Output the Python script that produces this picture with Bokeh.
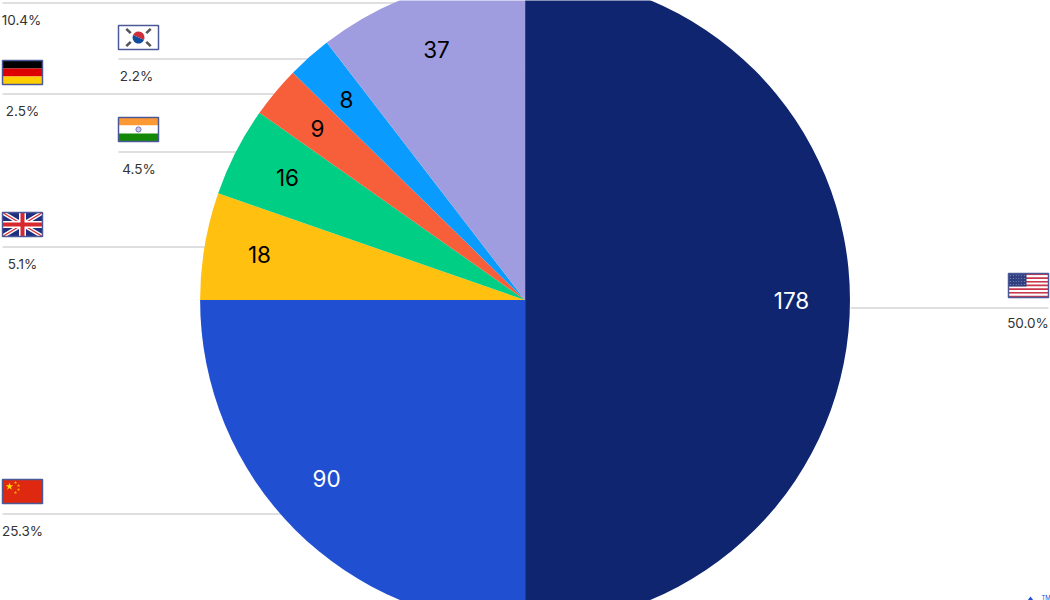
from bokeh.core.properties import value
from bokeh.embed import file_html
from bokeh.models import Range1d
from bokeh.plotting import figure
from bokeh.resources import INLINE
import math

# slices, clockwise from 12 o'clock
counts = [178, 90, 18, 16, 9, 8, 37]
shares = ["50.0%", "25.3%", "5.1%", "4.5%", "2.5%", "2.2%", "10.4%"]
countries = ["US", "CN", "GB", "IN", "DE", "KR", "other"]
# the drawn pie is not quite proportional to the counts, sweep read off the picture
sweep_deg = [180, 90, 19.2, 16, 9.2, 8, 37.6]
slice_colors = ["#0F2570", "#214FD1", "#FFC010", "#00CE84", "#F75F3A", "#0A9BFF", "#9F9DDF"]
label_colors = ["white", "white", "black", "black", "black", "black", "black"]

WIDTH, HEIGHT = 1050, 600
CX, CY, R = 524.6, 299.6, 325
FONT = "Inter"

# layout, in page pixels
count_xy = [(791, 300), (326, 478), (259, 254), (287, 177), (317, 128), (346, 99), (436, 49)]
share_xy = [(1027.5, 322), (22, 530), (22, 263.5), (138.5, 168.5), (22, 110), (136, 75.5), (21, 19)]
leaders = [(850, 1048, 307.5), (2, 300, 513.5), (2, 230, 246.5), (118, 260, 151.5), (2, 300, 93.5), (118, 340, 58.5), (2, 420, 2.5)]


def Y(y):
    return HEIGHT - y


p = figure(width=WIDTH, height=HEIGHT, output_backend="svg", toolbar_location=None,
           x_range=Range1d(0, WIDTH), y_range=Range1d(0, HEIGHT),
           x_axis_type=None, y_axis_type=None, min_border=0, outline_line_color=None)
p.grid.visible = False


def box(x0, y0, x1, y1, color):
    p.quad(left=x0, right=x1, top=Y(y0), bottom=Y(y1), fill_color=color, line_color=None)


def stroke(x0, y0, x1, y1, color, width):
    p.line([x0, x1], [Y(y0), Y(y1)], line_color=color, line_width=width)


def frame(x, y):
    p.quad(left=x, right=x + 40, top=Y(y), bottom=Y(y + 24), fill_color=None,
           line_color="#4B5A96", line_width=1.5)


def flag_us(x, y):
    for i in range(13):
        box(x, y + i * 24 / 13, x + 40, y + (i + 1) * 24 / 13, "#C8374A" if i % 2 == 0 else "white")
    box(x, y, x + 18, y + 13, "#2F3F80")
    for i in range(6):
        for j in range(4):
            p.scatter(x + 2 + i * 2.8, Y(y + 2 + j * 3), size=1, color="#8E9AC6", line_color=None)
    frame(x, y)


def flag_cn(x, y):
    box(x, y, x + 40, y + 24, "#DE2910")
    p.scatter(x + 7, Y(y + 7), marker="star", size=8, color="#FFDE00", line_color=None)
    for dx, dy in [(13, 3), (16, 6), (16, 10), (13, 13)]:
        p.scatter(x + dx, Y(y + dy), marker="star", size=3.5, color="#FFB000", line_color=None)
    frame(x, y)


def flag_gb(x, y):
    box(x, y, x + 40, y + 24, "#1F2F7F")
    stroke(x, y, x + 40, y + 24, "white", 4)
    stroke(x + 40, y, x, y + 24, "white", 4)
    stroke(x, y, x + 40, y + 24, "#D6282E", 1.2)
    stroke(x + 40, y, x, y + 24, "#D6282E", 1.2)
    stroke(x + 20, y, x + 20, y + 24, "white", 7)
    stroke(x, y + 12, x + 40, y + 12, "white", 7)
    stroke(x + 20, y, x + 20, y + 24, "#D6282E", 4)
    stroke(x, y + 12, x + 40, y + 12, "#D6282E", 4)
    frame(x, y)


def flag_in(x, y):
    box(x, y, x + 40, y + 8, "#FF9933")
    box(x, y + 8, x + 40, y + 16, "white")
    box(x, y + 16, x + 40, y + 24, "#138808")
    p.circle(x + 20, Y(y + 12), radius=2.6, fill_color="#C8C8EC", line_color="#5A5AA8", line_width=0.8)
    frame(x, y)


def flag_de(x, y):
    box(x, y, x + 40, y + 8, "black")
    box(x, y + 8, x + 40, y + 16, "#DD0000")
    box(x, y + 16, x + 40, y + 24, "#FFCE00")
    frame(x, y)


def flag_kr(x, y):
    box(x, y, x + 40, y + 24, "white")
    cx, cy = x + 20, Y(y + 12)
    p.wedge(cx, cy, radius=6, start_angle=math.radians(-25), end_angle=math.radians(155),
            fill_color="#CD2E3A", line_color=None)
    p.wedge(cx, cy, radius=6, start_angle=math.radians(155), end_angle=math.radians(335),
            fill_color="#0F4C9E", line_color=None)
    for sx, sy in [(-1, -1), (1, -1), (-1, 1), (1, 1)]:
        stroke(x + 20 + sx * 10 - 2.2, y + 12 + sy * 6.5 - sx * sy * 2.2,
               x + 20 + sx * 10 + 2.2, y + 12 + sy * 6.5 + sx * sy * 2.2, "#555555", 2.6)
    frame(x, y)


for x0, x1, y in leaders:
    stroke(x0, y, x1, y, "#D4D4D8", 1.5)

start = math.pi / 2
for sweep, color in zip(sweep_deg, slice_colors):
    end = start - math.radians(sweep)
    p.wedge(CX, Y(CY), radius=R, start_angle=start, end_angle=end, direction="clock",
            fill_color=color, line_color=None)
    start = end

for n, (x, y), color in zip(counts, count_xy, label_colors):
    p.text([x], [Y(y)], text=[str(n)], text_color=color, text_font=value(FONT), text_font_size="22.5px",
           text_font_style="normal", text_align="center", text_baseline="middle")

for s, (x, y) in zip(shares, share_xy):
    p.text([x], [Y(y)], text=[s], text_color="#333333", text_font=value(FONT), text_font_size="13.5px",
           text_align="center", text_baseline="middle")

flag_us(1008, 273)
flag_cn(2, 479)
flag_gb(2, 212)
flag_in(118, 117)
flag_de(2, 60)
flag_kr(118, 25)

# logo mark cut off by the bottom edge
p.patch([1027, 1030, 1033], [Y(600), Y(596), Y(600)], fill_color="#214FD1", line_color=None)
p.text([1041], [Y(597)], text=["TM"], text_color="#214FD1", text_font=value(FONT), text_font_size="6px",
       text_baseline="middle")

open("out.html", "w").write(file_html(p, INLINE))
